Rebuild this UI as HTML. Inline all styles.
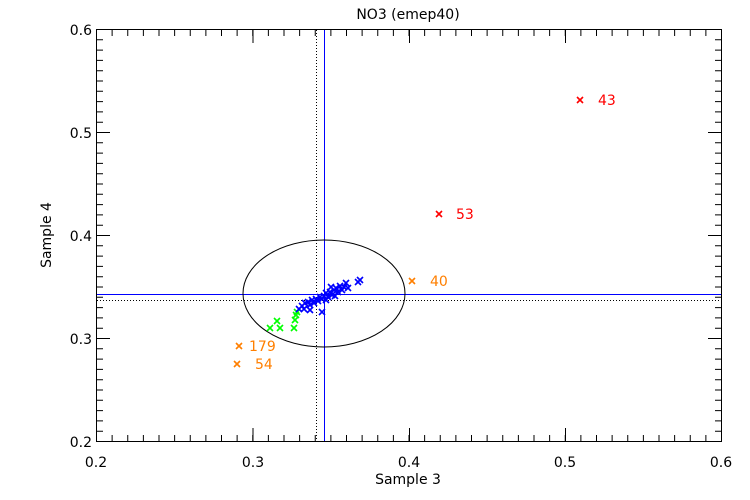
<!DOCTYPE html><html><head><style>body{margin:0;background:#fff}svg{display:block}text{font-family:"DejaVu Sans","Liberation Sans",sans-serif}</style></head><body>
<svg width="750" height="500" xmlns="http://www.w3.org/2000/svg">
<defs><g id="x"><path d="M-3,-3L3,3M-3,3L3,-3" stroke-width="1.6"/></g></defs>
<g stroke="#000" fill="none">
<rect x="96.5" y="29.5" width="625" height="412"/>
<line x1="96" y1="438" x2="723" y2="438" stroke-width="6" stroke-dasharray="1 14.625"/>
<line x1="96" y1="33" x2="723" y2="33" stroke-width="6" stroke-dasharray="1 14.625"/>
<line x1="100" y1="442" x2="100" y2="28" stroke-width="6" stroke-dasharray="1 9.3"/>
<line x1="718" y1="442" x2="718" y2="28" stroke-width="6" stroke-dasharray="1 9.3"/>
<path d="M253,441v-13M409.5,441v-13M565.5,441v-13M253,30v13M409.5,30v13M565.5,30v13M97,338.5h13M97,235.5h13M97,132.5h13M721,338.5h-13M721,235.5h-13M721,132.5h-13"/>
</g>
<g font-size="14" fill="#000">
<text x="92" y="35" text-anchor="end">0.6</text><text x="92" y="138" text-anchor="end">0.5</text><text x="92" y="241" text-anchor="end">0.4</text><text x="92" y="344" text-anchor="end">0.3</text><text x="92" y="447" text-anchor="end">0.2</text>
<text x="96" y="467" text-anchor="middle">0.2</text><text x="253" y="467" text-anchor="middle">0.3</text><text x="409" y="467" text-anchor="middle">0.4</text><text x="565" y="467" text-anchor="middle">0.5</text><text x="721" y="467" text-anchor="middle">0.6</text>
<text x="408" y="484" text-anchor="middle">Sample 3</text>
<text x="408" y="19" text-anchor="middle">NO3 (emep40)</text>
<text transform="translate(51,235) rotate(-90)" text-anchor="middle">Sample 4</text>
</g>
<g stroke="#000" stroke-dasharray="1,2" fill="none"><line x1="316.5" y1="30" x2="316.5" y2="441"/><line x1="97" y1="300.5" x2="721" y2="300.5"/></g>
<g stroke="#00f"><line x1="324.5" y1="30" x2="324.5" y2="441"/><line x1="97" y1="294.5" x2="721" y2="294.5"/></g>
<ellipse cx="324" cy="293.5" rx="81" ry="53.5" stroke="#000" fill="none"/>
<g stroke="#f00"><use href="#x" x="580" y="100"/><use href="#x" x="439" y="214"/></g>
<g fill="#f00" font-size="14"><text x="598" y="105">43</text><text x="456" y="219">53</text></g>
<g stroke="#ff7f00"><use href="#x" x="412" y="281"/><use href="#x" x="239" y="346"/><use href="#x" x="237" y="364"/></g>
<g fill="#ff7f00" font-size="14"><text x="430" y="286">40</text><text x="249" y="351">179</text><text x="255" y="369">54</text></g>
<g stroke="#0f0"><use href="#x" x="277" y="321"/><use href="#x" x="270" y="328"/><use href="#x" x="280" y="328"/><use href="#x" x="294" y="328"/><use href="#x" x="295" y="320"/><use href="#x" x="296" y="315"/><use href="#x" x="297" y="312"/></g>
<g stroke="#00f"><use href="#x" x="299" y="309"/><use href="#x" x="302" y="306"/><use href="#x" x="305" y="303"/><use href="#x" x="304" y="309"/><use href="#x" x="308" y="302"/><use href="#x" x="310" y="305"/><use href="#x" x="312" y="300"/><use href="#x" x="314" y="303"/><use href="#x" x="316" y="299"/><use href="#x" x="318" y="301"/><use href="#x" x="320" y="297"/><use href="#x" x="322" y="299"/><use href="#x" x="324" y="296"/><use href="#x" x="326" y="293"/><use href="#x" x="328" y="297"/><use href="#x" x="330" y="292"/><use href="#x" x="332" y="295"/><use href="#x" x="334" y="290"/><use href="#x" x="336" y="288"/><use href="#x" x="338" y="292"/><use href="#x" x="340" y="286"/><use href="#x" x="344" y="287"/><use href="#x" x="346" y="283"/><use href="#x" x="335" y="296"/><use href="#x" x="322" y="312"/><use href="#x" x="360" y="280"/><use href="#x" x="358" y="282"/><use href="#x" x="331" y="287"/><use href="#x" x="310" y="310"/><use href="#x" x="342" y="290"/><use href="#x" x="348" y="288"/><use href="#x" x="326" y="300"/></g>
</svg></body></html>
